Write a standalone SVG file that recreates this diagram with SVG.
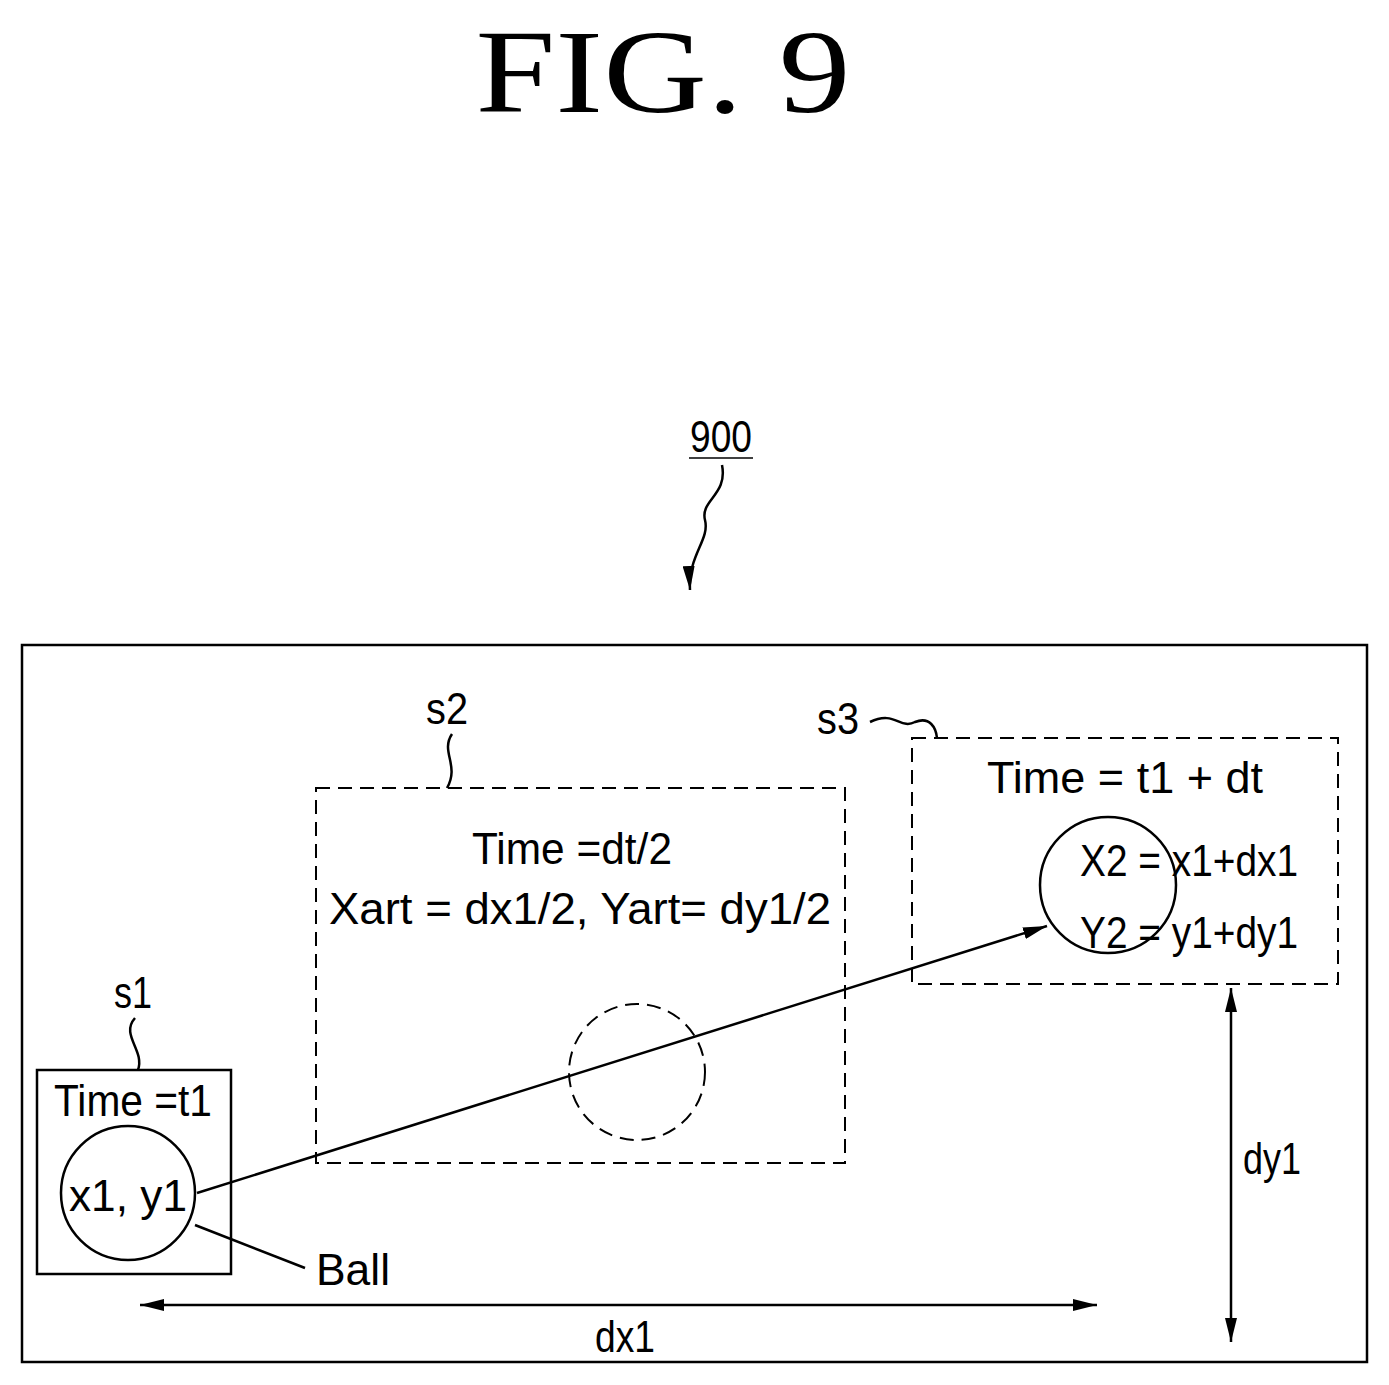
<svg xmlns="http://www.w3.org/2000/svg" width="1389" height="1385" viewBox="0 0 1389 1385">
<style>
.l{fill:none;stroke:#000;stroke-width:2.5}
.d{fill:none;stroke:#000;stroke-width:2;stroke-dasharray:14 8}
text{font-family:"Liberation Sans",Arial,sans-serif;font-size:44px;fill:#000;text-anchor:middle}
</style>
<defs>
<marker id="a" viewBox="0 0 24 12" refX="24" refY="6" markerWidth="24" markerHeight="12" markerUnits="userSpaceOnUse" orient="auto-start-reverse"><path d="M0,0L24,6L0,12z"/></marker>
</defs>
<rect width="1389" height="1385" fill="#fff"/>
<text x="663" y="112" style="font-family:'Liberation Serif',serif;font-size:118px" textLength="375" lengthAdjust="spacingAndGlyphs">FIG. 9</text>
<g id="ref900"><text x="721" y="452" textLength="62" lengthAdjust="spacingAndGlyphs">900</text><line x1="689" y1="458" x2="753" y2="458" stroke="#000" stroke-width="1.5"/>
<path class="l" d="M722,465 C728,495 700,500 705,520 C710,540 688,555 690,590" marker-end="url(#a)"/></g>
<rect id="frame" class="l" x="22" y="645" width="1345" height="717"/>
<g id="s1"><rect class="l" x="37" y="1070" width="194" height="204"/>
<text x="133" y="1008" textLength="38" lengthAdjust="spacingAndGlyphs">s1</text>
<path class="l" d="M135,1018 C120,1035 145,1050 138,1070"/>
<text x="133" y="1116" textLength="158" lengthAdjust="spacingAndGlyphs">Time =t1</text>
<circle class="l" cx="128" cy="1193" r="67"/>
<text x="128" y="1211" textLength="118" lengthAdjust="spacingAndGlyphs">x1, y1</text></g>
<g id="ball"><path class="l" d="M195,1225 L305,1268"/><text x="353" y="1285" textLength="74" lengthAdjust="spacingAndGlyphs">Ball</text></g>
<g id="s2"><rect class="d" x="316" y="788" width="529" height="375"/>
<text x="447" y="724" textLength="42" lengthAdjust="spacingAndGlyphs">s2</text>
<path class="l" d="M452,734 C440,752 460,765 447,788"/>
<text x="572" y="864" textLength="200" lengthAdjust="spacingAndGlyphs">Time =dt/2</text>
<text x="580" y="924" textLength="502" lengthAdjust="spacingAndGlyphs">Xart = dx1/2, Yart= dy1/2</text>
<circle class="d" cx="637" cy="1072" r="68"/></g>
<g id="s3"><rect class="d" x="912" y="738" width="426" height="246"/>
<text x="838" y="734" textLength="42" lengthAdjust="spacingAndGlyphs">s3</text>
<path class="l" d="M870,722 C895,710 900,730 915,722 C930,716 936,728 937,738"/>
<text x="1125" y="793" textLength="276" lengthAdjust="spacingAndGlyphs">Time = t1 + dt</text>
<circle class="l" cx="1108" cy="885" r="68"/>
<text x="1189" y="876" textLength="218" lengthAdjust="spacingAndGlyphs">X2 = x1+dx1</text>
<text x="1189" y="948" textLength="218" lengthAdjust="spacingAndGlyphs">Y2 = y1+dy1</text></g>
<g id="connectors">
<line class="l" x1="197" y1="1193" x2="1047" y2="926" marker-end="url(#a)"/>
<line class="l" x1="140" y1="1305" x2="1097" y2="1305" marker-start="url(#a)" marker-end="url(#a)"/>
<line class="l" x1="1231" y1="988" x2="1231" y2="1342" marker-start="url(#a)" marker-end="url(#a)"/>
</g>
<text x="625" y="1352" textLength="60" lengthAdjust="spacingAndGlyphs">dx1</text>
<text x="1272" y="1174" textLength="58" lengthAdjust="spacingAndGlyphs">dy1</text>
</svg>
